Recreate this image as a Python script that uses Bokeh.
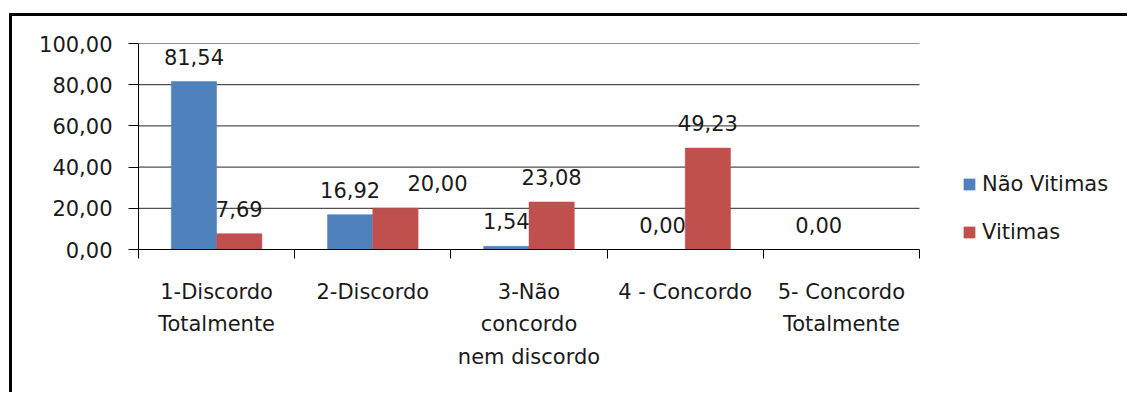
import numpy as np
from bokeh.plotting import figure
from bokeh.models import (ColumnDataSource, Range1d, FixedTicker, LinearAxis,
                          Legend, LegendItem, LabelSet)
from bokeh.core.properties import value
from bokeh.embed import file_html
from bokeh.resources import INLINE

categories = ["1-Discordo\nTotalmente", "2-Discordo", "3-Não\nconcordo\nnem discordo",
              "4 - Concordo", "5- Concordo\nTotalmente"]
nao_vitimas = [81.54, 16.92, 1.54, 0.00, 0.00]
vitimas = [7.69, 20.00, 23.08, 49.23, None]
y_ticks = [0, 20, 40, 60, 80, 100]
y_tick_labels = ["0,00", "20,00", "40,00", "60,00", "80,00", "100,00"]

FONT = "DejaVu Sans"
FS = "21px"
TXT = "#1a1a1a"
BLUE = "#4F81BD"
RED = "#C0504D"
GRID = "#262626"

n = len(categories)
xc = np.arange(1, n + 1, dtype=float)
bw = 0.29
x_lo, x_hi = 0.5, n + 0.5

# plot area geometry (pixels)
CANVAS_W, CANVAS_H = 1118, 379
LEFT, TOP, BOTTOM = 126, 27, 146
AREA_RIGHT = 211          # room right of the category area for the legend
px_per_unit = (CANVAS_W - LEFT - AREA_RIGHT) / (x_hi - x_lo)
x_end = x_hi + AREA_RIGHT / px_per_unit

# horizontal nudges (px) of the "Vitimas" data labels, to avoid overlap
nudge_b = [0, 42, 0, 0, 0]

def fmt(v):
    return "" if v is None else f"{v:.2f}".replace(".", ",")

src_a = ColumnDataSource(dict(x=xc - bw / 2, top=nao_vitimas,
                              lab=[fmt(v) for v in nao_vitimas],
                              dx=[0] * n))
src_b = ColumnDataSource(dict(x=xc + bw / 2,
                              top=[np.nan if v is None else v for v in vitimas],
                              lab=[fmt(v) for v in vitimas],
                              dx=nudge_b))

p = figure(width=CANVAS_W, height=CANVAS_H, output_backend="svg", toolbar_location=None,
           x_range=Range1d(x_lo, x_end), y_range=Range1d(0, 100),
           min_border_left=LEFT, min_border_right=0, min_border_top=TOP,
           min_border_bottom=BOTTOM, outline_line_color=None,
           background_fill_color="white", border_fill_color="white",
           margin=(13, 0, 0, 9),
           styles={"border-top": "3px solid black", "border-left": "3px solid black"})

p.xaxis.visible = False
p.yaxis.visible = False
p.xgrid.visible = False
p.ygrid.visible = False

# horizontal gridlines limited to the category area
gy = y_ticks[1:]
p.segment(x0=[x_lo] * len(gy), x1=[x_hi] * len(gy), y0=gy, y1=gy,
          line_color=GRID, line_width=1)

r1 = p.vbar(x="x", top="top", width=bw, source=src_a, fill_color=BLUE,
            line_color=BLUE, line_width=0.5)
r2 = p.vbar(x="x", top="top", width=bw, source=src_b, fill_color=RED,
            line_color=RED, line_width=0.5)

# y axis
ya = LinearAxis(ticker=FixedTicker(ticks=y_ticks),
                major_label_overrides={t: l for t, l in zip(y_ticks, y_tick_labels)})
ya.axis_line_color = "black"
ya.major_tick_line_color = "black"
ya.major_tick_out = 10
ya.major_tick_in = 0
ya.minor_tick_line_color = None
ya.major_label_standoff = 16
ya.major_label_text_font = FONT
ya.major_label_text_font_size = FS
ya.major_label_text_color = TXT
p.add_layout(ya, "left")

# x axis: ticks at category boundaries
xa = LinearAxis(ticker=FixedTicker(ticks=list(np.arange(x_lo, x_hi + 0.01, 1.0))),
                bounds=(x_lo, x_hi))
xa.axis_line_color = "black"
xa.major_tick_line_color = "black"
xa.major_tick_out = 9
xa.major_tick_in = 0
xa.minor_tick_line_color = None
xa.major_label_text_alpha = 0
xa.major_label_text_font_size = "1px"
xa.major_label_standoff = 0
p.add_layout(xa, "below")

# category labels at centers
xl = LinearAxis(ticker=FixedTicker(ticks=list(xc)), bounds=(x_lo, x_hi),
                major_label_overrides={float(x): c for x, c in zip(xc, categories)})
xl.axis_line_color = None
xl.major_tick_line_color = None
xl.minor_tick_line_color = None
xl.major_label_standoff = 15
xl.major_label_text_font = FONT
xl.major_label_text_font_size = FS
xl.major_label_text_color = TXT
xl.major_label_text_line_height = 1.36
p.add_layout(xl, "below")

# data labels
for s in (src_a, src_b):
    ls = LabelSet(x="x", y="top", text="lab", source=s, text_align="center",
                  text_baseline="middle", x_offset="dx", y_offset=25,
                  text_font=value(FONT), text_font_size=value(FS), text_color=TXT)
    p.add_layout(ls)

legend = Legend(items=[LegendItem(label="Não Vitimas", renderers=[r1]),
                       LegendItem(label="Vitimas", renderers=[r2])],
                location=(824, 5), padding=0, margin=0, border_line_alpha=0,
                background_fill_alpha=0, glyph_width=14, glyph_height=14,
                label_height=20, spacing=24, label_standoff=6,
                label_text_font=FONT, label_text_font_size=FS,
                label_text_color=TXT)
p.add_layout(legend, "center")

open("out.html", "w").write(file_html(p, INLINE))
